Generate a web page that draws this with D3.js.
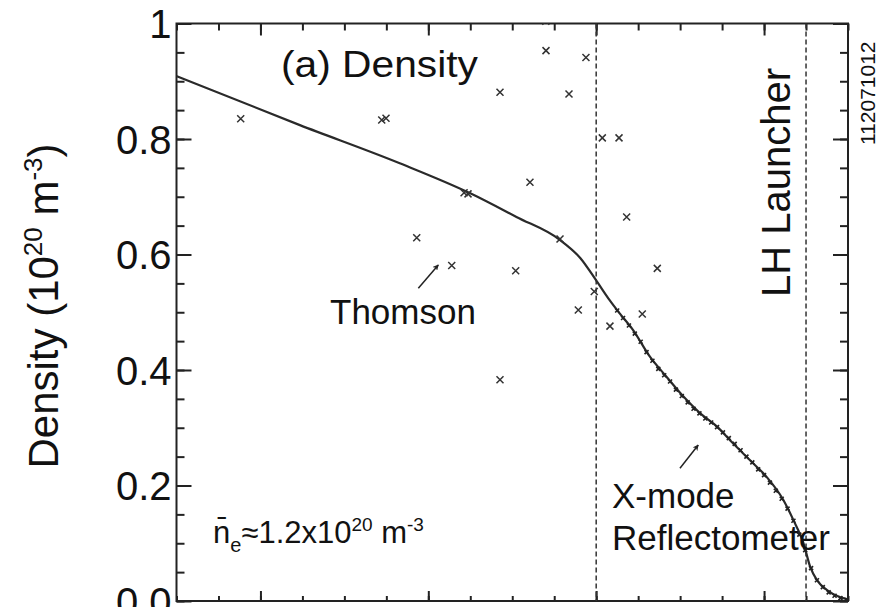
<!DOCTYPE html>
<html>
<head>
<meta charset="utf-8">
<script src="https://cdn.jsdelivr.net/npm/d3@7"></script>
<style>
  body { margin: 0; background: #fff; }
  svg text { font-family: "Liberation Sans", Arial, Helvetica, sans-serif; fill: #111; }
</style>
</head>
<body>
<div id="chart"></div>
<script>
// profile curve (solid line)
var profileX = [-1.0, 0.47, 1.66, 2.5, 3.05, 3.57, 3.81, 4.01, 4.16, 4.28, 4.44, 4.64, 4.84, 5.04, 5.24, 5.44, 5.63, 5.83, 6.03, 6.23, 6.35, 6.47, 6.55, 6.63, 6.75, 6.9, 7.0];
var profileN = [0.909, 0.824, 0.758, 0.706, 0.665, 0.625, 0.594, 0.553, 0.521, 0.498, 0.469, 0.423, 0.388, 0.354, 0.325, 0.302, 0.273, 0.244, 0.215, 0.175, 0.14, 0.1, 0.059, 0.036, 0.019, 0.007, 0.003];

// Thomson points
var thomsonX = [-0.235, 1.445, 1.496, 2.854, 3.402, 2.426, 2.473, 3.211, 1.862, 2.279, 3.041, 3.878, 3.676, 4.073, 4.272, 4.363, 3.569, 4.728, 3.977, 3.787, 4.549, 4.164, 2.854, 3.40];
var thomsonN = [0.835, 0.833, 0.836, 0.881, 0.953, 0.707, 0.705, 0.725, 0.629, 0.581, 0.572, 0.941, 0.878, 0.802, 0.802, 0.665, 0.627, 0.576, 0.536, 0.504, 0.497, 0.476, 0.383, 1.004];

// X-mode reflectometer points
var reflX = [4.25, 4.32, 4.39, 4.46, 4.53, 4.6, 4.67, 4.74, 4.81, 4.88, 4.95, 5.02, 5.09, 5.16, 5.23, 5.3, 5.37, 5.44, 5.51, 5.58, 5.65, 5.72, 5.79, 5.86, 5.93, 6.0, 6.07, 6.14, 6.21, 6.28, 6.35, 6.42, 6.49, 6.56, 6.63, 6.7, 6.77, 6.84, 6.91, 6.98];
var reflN = [0.503, 0.49, 0.477, 0.463, 0.449, 0.431, 0.416, 0.402, 0.391, 0.38, 0.366, 0.355, 0.344, 0.333, 0.325, 0.316, 0.309, 0.301, 0.292, 0.282, 0.272, 0.261, 0.25, 0.24, 0.228, 0.218, 0.205, 0.191, 0.177, 0.16, 0.139, 0.115, 0.088, 0.057, 0.036, 0.024, 0.015, 0.009, 0.005, 0.002];

var yTickValues = [0, 0.2, 0.4, 0.6, 0.8, 1];
var yTickLabels = ["0.0", "0.2", "0.4", "0.6", "0.8", "1"];
var xMajorTicks = [0, 2, 4, 6];
var dashedX = [4, 6.5];

var width = 878, height = 607;
var margin = { top: 23.5, right: 30, bottom: 6, left: 176.5 };

var x = d3.scaleLinear().domain([-1, 7]).range([margin.left, width - margin.right]);
var y = d3.scaleLinear().domain([0, 1]).range([height - margin.bottom, margin.top]);

var svg = d3.select("#chart")
  .append("svg")
  .attr("width", width)
  .attr("height", height);

var defs = svg.append("defs");
defs.append("clipPath").attr("id", "plot")
  .append("rect")
  .attr("x", margin.left).attr("y", margin.top)
  .attr("width", width - margin.left - margin.right)
  .attr("height", height - margin.top - margin.bottom);
defs.append("marker")
  .attr("id", "arrow")
  .attr("viewBox", "0 0 10 10")
  .attr("refX", 9).attr("refY", 5)
  .attr("markerWidth", 4).attr("markerHeight", 4)
  .attr("orient", "auto")
  .append("path")
  .attr("d", "M0,0L10,5L0,10L3,5z")
  .attr("fill", "#222");

var xMinor = d3.range(-1, 7.01, 0.5);
var yMinor = d3.range(0, 1.001, 0.05);

function styleAxis(g) {
  g.select(".domain").remove();
  g.selectAll(".tick line").attr("stroke", "#222").attr("stroke-width", 2);
}

// minor + major ticks on all four sides, pointing inward
svg.append("g").attr("transform", "translate(0," + y(0) + ")")
  .call(d3.axisBottom(x).tickValues(xMinor).tickSize(-5).tickFormat(""))
  .call(styleAxis);
svg.append("g").attr("transform", "translate(0," + y(0) + ")")
  .call(d3.axisBottom(x).tickValues(xMajorTicks).tickSize(-10).tickFormat(""))
  .call(styleAxis);
svg.append("g").attr("transform", "translate(0," + y(1) + ")")
  .call(d3.axisTop(x).tickValues(xMinor).tickSize(-7).tickFormat(""))
  .call(styleAxis);
svg.append("g").attr("transform", "translate(0," + y(1) + ")")
  .call(d3.axisTop(x).tickValues(xMajorTicks).tickSize(-12).tickFormat(""))
  .call(styleAxis);

svg.append("g").attr("transform", "translate(" + x(-1) + ",0)")
  .call(d3.axisLeft(y).tickValues(yMinor).tickSize(-8).tickFormat(""))
  .call(styleAxis);
svg.append("g").attr("transform", "translate(" + x(7) + ",0)")
  .call(d3.axisRight(y).tickValues(yMinor).tickSize(-8).tickFormat(""))
  .call(styleAxis);
svg.append("g").attr("transform", "translate(" + x(7) + ",0)")
  .call(d3.axisRight(y).tickValues(yTickValues).tickSize(-15).tickFormat(""))
  .call(styleAxis);

var yAxis = svg.append("g").attr("transform", "translate(" + x(-1) + ",0)")
  .call(d3.axisLeft(y).tickValues(yTickValues).tickSize(-15).tickPadding(5)
    .tickFormat(function (d, i) { return yTickLabels[i]; }))
  .call(styleAxis);
yAxis.selectAll(".tick text")
  .attr("font-size", 40)
  .attr("dy", "0.36em")
  .attr("fill", "#111");

// frame
svg.append("rect")
  .attr("x", x(-1)).attr("y", y(1))
  .attr("width", x(7) - x(-1)).attr("height", y(0) - y(1))
  .attr("fill", "none")
  .attr("stroke", "#222")
  .attr("stroke-width", 2);

// dashed vertical lines
svg.selectAll(".vline")
  .data(dashedX)
  .enter().append("line")
  .attr("x1", function (d) { return x(d); })
  .attr("x2", function (d) { return x(d); })
  .attr("y1", y(1)).attr("y2", y(0))
  .attr("stroke", "#333")
  .attr("stroke-width", 1.5)
  .attr("stroke-dasharray", "5,3");

var plot = svg.append("g").attr("clip-path", "url(#plot)");

var line = d3.line()
  .x(function (d) { return x(d[0]); })
  .y(function (d) { return y(d[1]); })
  .curve(d3.curveMonotoneX);

plot.append("path")
  .datum(profileX.map(function (v, i) { return [v, profileN[i]]; }))
  .attr("d", line)
  .attr("fill", "none")
  .attr("stroke", "#2a2a2a")
  .attr("stroke-width", 2.2);

// reflectometer: small marks along the edge
plot.selectAll(".refl")
  .data(reflX.map(function (v, i) { return [v, reflN[i]]; }))
  .enter().append("path")
  .attr("transform", function (d) { return "translate(" + x(d[0]) + "," + y(d[1]) + ")"; })
  .attr("d", "M-2,-2L2,2M-2,2L2,-2")
  .attr("stroke", "#222")
  .attr("stroke-width", 1.6);

// Thomson: x markers
plot.selectAll(".ts")
  .data(thomsonX.map(function (v, i) { return [v, thomsonN[i]]; }))
  .enter().append("path")
  .attr("transform", function (d) { return "translate(" + x(d[0]) + "," + y(d[1]) + ")"; })
  .attr("d", "M-3.5,-3.5L3.5,3.5M-3.5,3.5L3.5,-3.5")
  .attr("stroke", "#333")
  .attr("stroke-width", 1.5);

// arrows
var arrows = [[[1.881, 0.5415], [2.119, 0.582]], [[4.998, 0.2298], [5.216, 0.270]]];
svg.selectAll(".arrow")
  .data(arrows)
  .enter().append("line")
  .attr("x1", function (d) { return x(d[0][0]); })
  .attr("y1", function (d) { return y(d[0][1]); })
  .attr("x2", function (d) { return x(d[1][0]); })
  .attr("y2", function (d) { return y(d[1][1]); })
  .attr("stroke", "#222")
  .attr("stroke-width", 1.5)
  .attr("marker-end", "url(#arrow)");

// labels
svg.append("text")
  .attr("x", 281).attr("y", 77)
  .attr("font-size", 37)
  .attr("textLength", 197)
  .attr("lengthAdjust", "spacingAndGlyphs")
  .text("(a) Density");

svg.append("text").attr("x", 330).attr("y", 324).attr("font-size", 35).text("Thomson");
svg.append("text").attr("x", 612).attr("y", 508).attr("font-size", 35).text("X-mode");
svg.append("text").attr("x", 612).attr("y", 550).attr("font-size", 35).text("Reflectometer");

var ne = svg.append("text").attr("x", 213).attr("y", 543).attr("font-size", 31);
ne.append("tspan").text("n\u0304");
ne.append("tspan").attr("dy", 9).attr("font-size", 20).text("e");
ne.append("tspan").attr("dy", -9).text("\u22481.2x10");
ne.append("tspan").attr("dy", -12).attr("font-size", 19).text("20");
ne.append("tspan").attr("dy", 12).text(" m");
ne.append("tspan").attr("dy", -12).attr("font-size", 19).text("-3");

var yl = svg.append("text")
  .attr("transform", "translate(58,306) rotate(-90)")
  .attr("text-anchor", "middle")
  .attr("font-size", 42);
yl.append("tspan").text("Density (10");
yl.append("tspan").attr("dy", -16).attr("font-size", 26).text("20");
yl.append("tspan").attr("dy", 16).text(" m");
yl.append("tspan").attr("dy", -16).attr("font-size", 26).text("-3");
yl.append("tspan").attr("dy", 16).text(")");

svg.append("text")
  .attr("transform", "translate(790,297) rotate(-90)")
  .attr("font-size", 40)
  .text("LH Launcher");

svg.append("text")
  .attr("transform", "translate(875,145) rotate(-90)")
  .attr("font-size", 21)
  .text("112071012");
</script>
</body>
</html>
